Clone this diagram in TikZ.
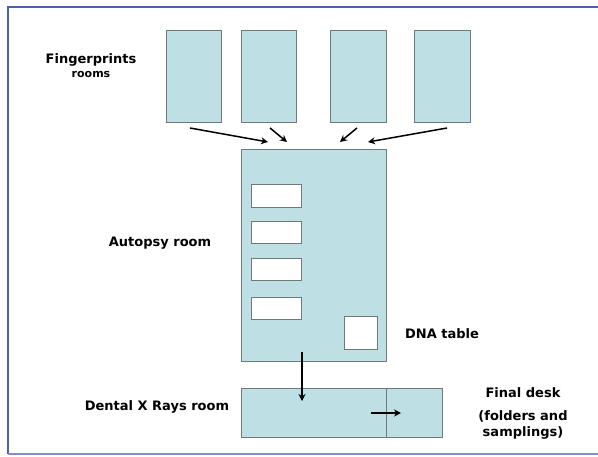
\documentclass[tikz,border=0pt]{standalone}
\usepackage{fontspec}
\setmainfont{DejaVu Sans}
\usetikzlibrary{arrows.meta}
\definecolor{roomfill}{HTML}{BEE0E4}
\definecolor{roomedge}{HTML}{707878}
\definecolor{framecol}{HTML}{4A5FB5}
\begin{document}
\begin{tikzpicture}[x=1pt,y=-1pt,
  room/.style={draw=roomedge,fill=roomfill,line width=1pt},
  table/.style={draw=roomedge,fill=white,line width=1pt},
  lbl/.style={font=\bfseries\fontsize{13}{15}\selectfont,align=center,inner sep=0pt},
  flow/.style={-{Stealth[length=7pt,width=7pt]},line width=1.5pt,black}]
\useasboundingbox (0,0) rectangle (598,456);
% page frame
\draw[framecol,line width=1.3pt] (598,7) -- (8,7) -- (8,454);
\draw[framecol!70,line width=1.2pt] (8,454) -- (598,454);
% fingerprint rooms
\draw[room] (166,30) rectangle (221,122);
\draw[room] (241,30) rectangle (296,122);
\draw[room] (330,30) rectangle (386,122);
\draw[room] (414,30) rectangle (470,122);
\coordinate (f1) at (190,128);
\coordinate (f2) at (270,128);
\coordinate (f3) at (357,128);
\coordinate (f4) at (447,128);
\coordinate (a1) at (268,142);
\coordinate (a2) at (287,142);
\coordinate (a3) at (340,142);
\coordinate (a4) at (368,142);
\draw[flow] (f1) -- (a1);
\draw[flow] (f2) -- (a2);
\draw[flow] (f3) -- (a3);
\draw[flow] (f4) -- (a4);
% autopsy room with tables
\draw[room] (241,149) rectangle (386,361);
\draw[table] (251,184) rectangle (301,207);
\draw[table] (251,221) rectangle (301,243);
\draw[table] (251,258) rectangle (301,280);
\draw[table] (251,297) rectangle (301,319);
\draw[table] (344,316) rectangle (377,349);
% dental x rays room and final desk
\draw[room] (241,388) rectangle (386,437);
\draw[room] (386,388) rectangle (442,437);
\coordinate (d1) at (302,352);
\coordinate (d2) at (302,401);
\draw[flow] (d1) -- (d2);
\coordinate (e1) at (371,413);
\coordinate (e2) at (401,413);
\draw[flow] (e1) -- (e2);
% labels
\node[lbl] (lfp) at (91,60) {Fingerprints};
\node[lbl,font=\bfseries\fontsize{11}{13}\selectfont] (lrooms) at (91,74) {rooms};
\node[lbl] (laut) at (160,243) {Autopsy room};
\node[lbl] (ldna) at (442,334) {DNA table};
\node[lbl] (lden) at (157,407) {Dental X Rays room};
\node[lbl] (lfin) at (523,393) {Final desk};
\node[lbl] (lfold) at (523,416) {(folders and};
\node[lbl] (lsamp) at (523,433) {samplings)};
\end{tikzpicture}
\end{document}
